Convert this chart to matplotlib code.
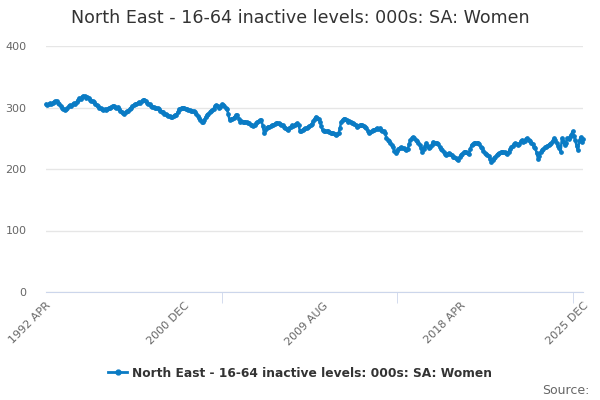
import matplotlib.pyplot as plt
import numpy as np
from matplotlib.lines import Line2D
from matplotlib.ticker import FixedLocator

# monthly values, 1992 APR .. 2025 DEC (000s)
y1992 = [305, 304, 306, 307, 306, 308, 309, 310, 311]
y1993 = [308, 306, 303, 300, 298, 296, 297, 299, 302, 304, 303, 305]
y1994 = [307, 306, 309, 312, 315, 314, 317, 319, 318, 316, 317, 315]
y1995 = [313, 311, 310, 309, 306, 304, 302, 300, 299, 298, 296, 297]
y1996 = [296, 298, 299, 300, 301, 303, 302, 301, 300, 301, 298, 295]
y1997 = [293, 291, 290, 292, 294, 295, 298, 300, 302, 304, 305, 306]
y1998 = [307, 309, 308, 310, 312, 313, 311, 308, 306, 305, 303, 301]
y1999 = [301, 300, 299, 299, 298, 295, 293, 292, 290, 289, 288, 286]
y2000 = [286, 285, 285, 286, 288, 288, 292, 297, 298, 300, 299, 299]
y2001 = [298, 297, 296, 296, 295, 294, 294, 292, 289, 286, 283, 280]
y2002 = [277, 276, 280, 284, 288, 290, 292, 294, 296, 298, 302, 304]
y2003 = [302, 299, 301, 305, 304, 302, 300, 298, 290, 280, 281, 282]
y2004 = [283, 285, 288, 287, 282, 277, 278, 277, 276, 277, 276, 275]
y2005 = [274, 272, 271, 270, 272, 274, 277, 278, 279, 280, 270, 258]
y2006 = [263, 267, 269, 268, 270, 271, 271, 273, 274, 275, 274, 273]
y2007 = [272, 271, 269, 267, 265, 264, 266, 269, 271, 270, 272, 273]
y2008 = [274, 272, 261, 262, 264, 265, 266, 267, 268, 270, 271, 273]
y2009 = [278, 282, 285, 283, 281, 277, 270, 263, 262, 261, 261, 261]
y2010 = [260, 259, 258, 258, 257, 256, 257, 258, 266, 277, 280, 282]
y2011 = [281, 279, 277, 278, 276, 275, 274, 273, 271, 269, 270, 271]
y2012 = [272, 271, 270, 268, 266, 262, 258, 260, 261, 263, 264, 265]
y2013 = [266, 265, 266, 264, 262, 261, 258, 251, 247, 245, 242, 239]
y2014 = [235, 230, 226, 229, 233, 234, 235, 234, 234, 232, 231, 232]
y2015 = [240, 247, 250, 252, 251, 247, 246, 243, 239, 234, 227, 232]
y2016 = [237, 242, 238, 234, 235, 239, 244, 243, 242, 242, 240, 236]
y2017 = [233, 231, 228, 224, 223, 225, 226, 224, 222, 220, 219, 218]
y2018 = [216, 215, 219, 223, 225, 227, 228, 227, 226, 225, 232, 239]
y2019 = [240, 242, 243, 242, 243, 240, 236, 234, 230, 226, 224, 223]
y2020 = [221, 216, 212, 215, 218, 220, 223, 225, 226, 227, 228, 228]
y2021 = [227, 226, 225, 228, 232, 236, 238, 240, 242, 240, 239, 241]
y2022 = [245, 247, 244, 246, 249, 250, 247, 245, 242, 240, 236, 234]
y2023 = [226, 217, 221, 228, 231, 233, 235, 236, 238, 239, 241, 242]
y2024 = [246, 250, 247, 242, 238, 234, 228, 250, 245, 239, 242, 250]
y2025 = [248, 252, 256, 261, 254, 247, 238, 231, 245, 252, 244, 248]

values = (y1992 + y1993 + y1994 + y1995 + y1996 + y1997 + y1998 + y1999 + y2000
          + y2001 + y2002 + y2003 + y2004 + y2005 + y2006 + y2007 + y2008 + y2009
          + y2010 + y2011 + y2012 + y2013 + y2014 + y2015 + y2016 + y2017 + y2018
          + y2019 + y2020 + y2021 + y2022 + y2023 + y2024 + y2025)

tick_pos = [0, 104, 208, 312, 404]
tick_labels = ['1992 APR', '2000 DEC', '2009 AUG', '2018 APR', '2025 DEC']
series_name = 'North East - 16-64 inactive levels: 000s: SA: Women'

blue = '#0a7bc4'
grey_txt = '#666666'

fig = plt.figure(figsize=(6, 4), dpi=100)
ax = fig.add_axes([0.0767, 0.27, 0.8953, 0.615])

x = np.arange(len(values))
ax.plot(x, values, color=blue, lw=1.8, marker='o', ms=2.4, mec=blue, mfc=blue, clip_on=False)

ax.set_xlim(0, len(values) - 1)
ax.set_ylim(0, 400)
ax.set_yticks([0, 100, 200, 300, 400])
ax.grid(axis='y', color='#e6e6e6', lw=1)
ax.set_axisbelow(True)

for s in ['top', 'right', 'left']:
    ax.spines[s].set_visible(False)
ax.spines['bottom'].set_color('#ccd6eb')

ax.set_xticks(tick_pos)
ax.set_xticklabels(tick_labels, rotation=45, ha='right', rotation_mode='anchor')
ax.xaxis.set_minor_locator(FixedLocator([0, 132, 264, 396, 404]))
ax.tick_params(axis='x', which='major', length=0, pad=6, labelsize=8, labelcolor=grey_txt)
ax.tick_params(axis='x', which='minor', length=8, color='#ccd6eb')
ax.tick_params(axis='y', length=0, pad=14, labelsize=8, labelcolor=grey_txt)

fig.text(0.5, 0.955, series_name, ha='center', va='center', fontsize=12.6, color='#333333')

handle = Line2D([], [], color=blue, lw=2, marker='o', ms=3.5)
fig.legend([handle], [series_name], loc='center', bbox_to_anchor=(0.5, 0.067),
           frameon=False, handlelength=1.6, handletextpad=0.4,
           prop={'size': 8.8, 'weight': 'bold'}, labelcolor='#333333')

fig.text(0.982, 0.025, 'Source:', ha='right', va='center', fontsize=9, color=grey_txt)

fig.savefig('out.png', dpi=100)
